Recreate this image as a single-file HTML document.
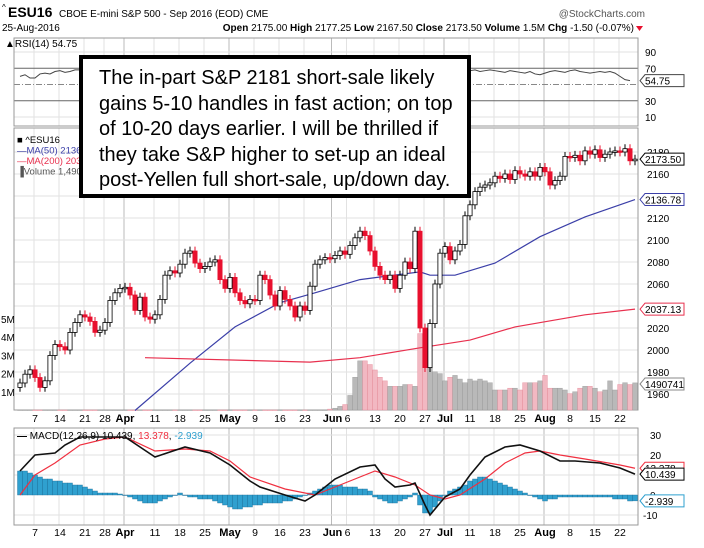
<!DOCTYPE html>
<html><head><meta charset="utf-8"><style>
html,body{margin:0;padding:0;background:#fff;}
svg{display:block;font-family:"Liberation Sans",sans-serif;}
#note{position:absolute;left:79px;top:55px;width:368px;height:128px;border:4px solid #000;background:#fff;font-family:"Liberation Sans",sans-serif;font-size:20px;line-height:25.6px;color:#000;padding:7px 0 0 16px;box-sizing:content-box;white-space:nowrap;overflow:hidden;}
</style></head><body>
<div style="position:relative;width:704px;height:548px;overflow:hidden">
<svg id="chart" width="704" height="548"></svg>
<div id="note">The in-part S&amp;P 2181 short-sale likely<br>gains 5-10 handles in fast action; on top<br>of 10-20 days earlier. I will be thrilled if<br>they take S&amp;P higher to set-up an ideal<br>post-Yellen full short-sale, up/down day.</div>
</div>
<script>
const closes=[1970,1978,1982, 1975,1966,1972,1995,2005, 2003,2000,2016,2025,2032, 2030,2026,2016,2018, 2025,2045,2052,2056,2057, 2050,2036,2048,2030,2028, 2032,2046,2068,2072,2070, 2078,2088,2090,2079,2074, 2076,2080,2082,2064,2056, 2066,2052,2045,2042,2046, 2045,2068,2064,2050,2040, 2054,2046,2040,2030,2040, 2036,2058,2078,2082,2084, 2083,2086,2090,2087, 2095,2102,2108,2104,2090, 2076,2068,2064,2068,2056, 2068,2080,2074,2108,2020, 1984,2024,2060,2088,2094, 2082,2090,2096,2122, 2132,2144,2148,2150,2152, 2158,2156,2160,2155,2163, 2160,2158,2162,2158,2166, 2162,2150,2154,2158,2176, 2175,2177,2172,2181,2178, 2182,2175,2178,2180,2181, 2180,2183,2172,2173.5];
const firstOpen=1966;
const volumes=[0,0,0,0,0,0,0,0,0,0,0,0,0,0,0,0,0,0,0,0,0,0,0,0,0,0,0,0,0,0,0,0,0,0,0,0,0,0,0,0,0,0,0,0,0,0,0,0,0,0,0,0,0,0,0,0,0,0,0,0,0,0,0.05,0.1,
0.2,0.3,0.8,1.8,2.7,2.7,2.5,2.2,1.8,1.6,1.3,1.3,1.3,1.4,1.4,1.3,4.2,4.2,
2.3,2.1,2.0,1.6,1.8,1.9,1.7,1.5,1.7,1.6,1.7,1.6,1.5,1.1,1.1,1.1,1.2,1.2,1.1,1.5,1.5,1.5,1.6,1.9,1.2,1.2,1.2,1.1,0.9,1.0,1.2,1.3,1.3,1.2,1.0,1.1,1.6,1.1,1.4,1.5,1.4,1.49];
const ma50Idx=[23,34,43,52,59,68,80,82,87,95,104,113,123];
const ma50Val=[1945,1988,2021,2043,2052,2064,2071,2068,2068,2079,2103,2121,2136.78];
const ma200Idx=[25,58,68,80,90,99,113,123];
const ma200Val=[1993,1989,1993,2002,2009,2021,2032,2037.13];
const rsi=[60,62,58,58,63,64,63,66,67,65,66,68,68,
65,66,64,63,65,66,67,65,64,63,62,64,65,66,67,66,65,64,63,62,61,62,63,64,65,66,65,64,63,62,61,60,62,63,64,65,64,63,62,61,60,61,62,63,64,65,66,67,66,65,64,63,62,61,62,63,64,65,66,65,64,63,62,61,60,61,62,63,64,65,66,65,64,63,62,64,
66,67,68,66,67,68,67,66,65,67,66,65,64,66,63,62,64,66,67,66,65,67,68,66,65,64,65,66,65,66,64,60,56,54.75];
const macdIdx=[0,3,7,9,12,17,21,27,33,38,42,46,48,53,57,59,63,68,71,73,75,78,79,81,82,85,88,90,93,97,100,104,108,111,116,120,123];
const macdVal=[12,20,21,25,29,29,29,19,24,21,15,7,4,0,-3,0,8,14,15,8,4,5,6,-5,-10,-1,3,10,19,24,25,22,17,17,16,13.5,10.439];
const sigIdx=[0,3,7,12,17,21,27,33,38,42,46,53,59,63,71,75,79,82,85,88,93,97,101,104,108,113,120,123];
const sigVal=[0,10,16,25,28,29,22,23,22,17,9,3,0,4,12,9,5,0,-2,0,8,16,21,22,20,18,15,13.378];
const hist=[12,12,11,10,9,8,8,7,7,6,6,5,5, 4,3,2,1,1,1,1,0.5, 0,-1,-2,-3,-4,-4,-4,-3,-2, -1,0,1,0,-1,-1,-2,-2, -2,-3,-4,-5,-6,-7,-7,-6,-6,-5,-5,-4,-4, -4,-4,-3,-3,-2,-1,0,1, 2,3,4,5,5,5,4,4,4,3,3,2, -1,-2,-3,-4,-4,-3,-2,-1,1,-5, -9,-9,-6,-3,0,2,3,4,5, 7,8,9,9,8,7,6,5,4,3,2,1, 0,-1,-2,-3,-2,-2,-1,-1,-1,-1,-1,-1,-1,-1,-1,-1,-1,-2,-2,-2,-3,-2.939];
const dateLabels=["7","14","21","28","Apr","11","18","25","May","9","16","23","Jun","6","13","20","27","Jul","11","18","25","Aug","8","15","22"];
const dateIdx=[3,8,13,17,21,27,32,37,42,47,52,57,62.5,65.5,71,76,81,85,90,95,100,105,110,115,120];
const priceTicks=[2180,2160,2140,2120,2100,2080,2060,2040,2020,2000,1980,1960];
const volTicks=["1M","2M","3M","4M","5M"];
const volTickVals=[1,2,3,4,5];
const rsiTicks=[90,70,30,10];
const macdTicks=[30,20,0,-10];

const NS="http://www.w3.org/2000/svg";
const svg=document.getElementById('chart');
function mk(tag,attrs,parent,text){const e=document.createElementNS(NS,tag);for(const k in attrs)e.setAttribute(k,attrs[k]);if(text!==undefined)e.textContent=text;(parent||svg).appendChild(e);return e;}
const L=14,R=638;
const xs=i=>20+5.0*i;
const yP=p=>394-(p-1960)*1.1;
const yV=v=>410-v*18.2;
const yR=v=>117-(v-10)*0.8125;
const yM=v=>495-2*v;

let t;
t=mk('text',{x:2,y:10,'font-size':8});t.textContent='^';

t=mk('text',{x:8,y:17,'font-size':14,'font-weight':'bold'},svg,'ESU16');

t=mk('text',{x:59,y:17,'font-size':10},svg,'CBOE E-mini S&P 500 - Sep 2016 (EOD)  CME');

t=mk('text',{x:645,y:17,'font-size':10,'text-anchor':'end',fill:'#555'},svg,'@StockCharts.com');

t=mk('text',{x:2,y:31,'font-size':10},svg,'25-Aug-2016');

t=mk('text',{x:634,y:31,'font-size':10,'text-anchor':'end'},svg);
t.innerHTML='<tspan font-weight="bold">Open</tspan> 2175.00 <tspan font-weight="bold">High</tspan> 2177.25 <tspan font-weight="bold">Low</tspan> 2167.50 <tspan font-weight="bold">Close</tspan> 2173.50 <tspan font-weight="bold">Volume</tspan> 1.5M <tspan font-weight="bold">Chg</tspan> -1.50 (-0.07%)';

t=mk('path',{d:'M636,26 L643,26 L639.5,31 Z',fill:'#e8102e'});


function panel(name,y0,y1){const r=mk('rect',{x:L,y:y0,width:R-L,height:y1-y0,fill:'none',stroke:'#999','stroke-width':1});}
function vgrid(y0,y1){dateIdx.forEach((d,k)=>{const month=['Apr','May','Jun','Jul','Aug'].includes(dateLabels[k]);const g=mk('line',{x1:xs(d)-1,x2:xs(d)-1,y1:y0,y2:y1,stroke:month?'#bbb':'#e2e2e2','stroke-width':1});});}
vgrid(38,126);
[90,10].forEach(v=>{const g=mk('line',{x1:L,x2:R,y1:yR(v),y2:yR(v),stroke:'#e2e2e2'});});
[70,30].forEach(v=>{const g=mk('line',{x1:L,x2:R,y1:yR(v),y2:yR(v),stroke:'#666'});});
t=mk('line',{x1:L,x2:R,y1:yR(50),y2:yR(50),stroke:'#888','stroke-dasharray':'6,2,1,2'});

panel('rsi-panel',38,126);
t=mk('polyline',{points:rsi.map((v,i)=>xs(i)+','+yR(v)).join(' '),fill:'none',stroke:'#444','stroke-width':1});

rsiTicks.forEach(v=>{const e=mk('text',{x:645,y:yR(v)+4,'font-size':10},svg,String(v));});
t=mk('text',{x:5,y:47,'font-size':10},svg,'\u25B2RSI(14) 54.75');

tag0();
function tag0(){}

vgrid(128,410);
priceTicks.forEach(p=>{const g=mk('line',{x1:L,x2:R,y1:yP(p),y2:yP(p),stroke:'#e2e2e2'});
const e=mk('text',{x:647,y:yP(p)+4,'font-size':10},svg,String(p));});
panel('price-panel',128,410);
closes.forEach((c,i)=>{const prev=i?closes[i-1]:firstOpen;const down=c<prev;const v=volumes[i];
const b=mk('rect',{x:xs(i)-2.4,y:yV(v),width:4.8,height:Math.max(0.5,410-yV(v)),fill:down?'#f2b8c2':'#b9b9b9',stroke:down?'#e58a98':'#999','stroke-width':0.4});
});
volTickVals.forEach((v,k)=>{const e=mk('text',{x:1,y:yV(v)+4,'font-size':10},svg,volTicks[k]);});
t=mk('polyline',{points:ma50Idx.map((d,k)=>xs(d)+','+yP(ma50Val[k])).join(' '),fill:'none',stroke:'#3b3fa8','stroke-width':1.2});

t=mk('polyline',{points:ma200Idx.map((d,k)=>xs(d)+','+yP(ma200Val[k])).join(' '),fill:'none',stroke:'#e8304e','stroke-width':1.2});

closes.forEach((c,i)=>{const o=i?closes[i-1]:firstOpen;const up=c>=o;const x=xs(i);
const hi=Math.max(o,c)+4,lo=Math.min(o,c)-4;const col=up?'#000':'#e8102e';
const w=mk('line',{x1:x,x2:x,y1:yP(hi),y2:yP(lo),stroke:col,'stroke-width':1});

const top=yP(Math.max(o,c)),bot=yP(Math.min(o,c));
const b=mk('rect',{x:x-2.1,y:top,width:4.2,height:Math.max(1.5,bot-top),fill:up?'#fff':'#e8102e',stroke:col,'stroke-width':0.8});
});
const leg=[['\u25A0 ^ESU16','#000'],['\u2014MA(50) 2136','#3b3fa8'],['\u2014MA(200) 2037','#e8304e'],['\u2590Volume 1,490','#555']];
leg.forEach((l,k)=>{const e=mk('text',{x:17,y:143+k*10.5,'font-size':9.5,fill:l[1]},svg,l[0]);});
function tag(name,val,y,col){const r=mk('path',{d:`M640,${y} L645,${y-6} L684,${y-6} L684,${y+6} L645,${y+6} Z`,fill:'#fff',stroke:col,'stroke-width':1});
const e=mk('text',{x:645,y:y+4,'font-size':10,fill:'#000'},svg,val);}
tag('rsi-tag','54.75',yR(rsi[rsi.length-1]),'#444');
tag('close-tag','2173.50',yP(closes[123]),'#000');
tag('ma50-tag','2136.78',yP(ma50Val[ma50Val.length-1]),'#3b3fa8');
tag('ma200-tag','2037.13',yP(ma200Val[ma200Val.length-1]),'#e8304e');
tag('volume-tag','1490741',384,'#888');

function dateAxis(y){dateLabels.forEach((d,k)=>{const month=isNaN(+d);const e=mk('text',{x:xs(dateIdx[k]),y:y,'font-size':month?11:10.5,'font-weight':month?'bold':'normal','text-anchor':'middle'},svg,d);});}
dateAxis(422);

vgrid(428,525);
[30,20,10,-10].forEach(v=>{const g=mk('line',{x1:L,x2:R,y1:yM(v),y2:yM(v),stroke:'#e2e2e2'});});
panel('macd-panel',428,525);
hist.forEach((h,i)=>{const y0=yM(0),y1=yM(h);const b=mk('rect',{x:xs(i)-2.5,y:Math.min(y0,y1),width:5,height:Math.max(0.5,Math.abs(y1-y0)),fill:'#2fa0cf',stroke:'#1f6f99','stroke-width':0.4});});
t=mk('polyline',{points:sigIdx.map((d,k)=>xs(d)+','+yM(sigVal[k])).join(' '),fill:'none',stroke:'#f03040','stroke-width':1.2});

t=mk('polyline',{points:macdIdx.map((d,k)=>xs(d)+','+yM(macdVal[k])).join(' '),fill:'none',stroke:'#111','stroke-width':1.6});

macdTicks.forEach(v=>{const e=mk('text',{x:v<0?643:650,y:yM(v)+4,'font-size':10},svg,String(v));});
tag('signal-tag','13.378',yM(sigVal[sigVal.length-1]),'#f03040');
tag('macd-tag','10.439',yM(macdVal[macdVal.length-1]),'#000');
tag('hist-tag','-2.939',yM(hist[hist.length-1]),'#2fa0cf');
t=mk('text',{x:17,y:439,'font-size':10},svg);
t.innerHTML='<tspan font-weight="bold">\u2014</tspan> MACD(12,26,9) 10.439, <tspan fill="#f03040">13.378</tspan>, <tspan fill="#2fa0cf">-2.939</tspan>';

dateAxis(536);
</script>
</body></html>
